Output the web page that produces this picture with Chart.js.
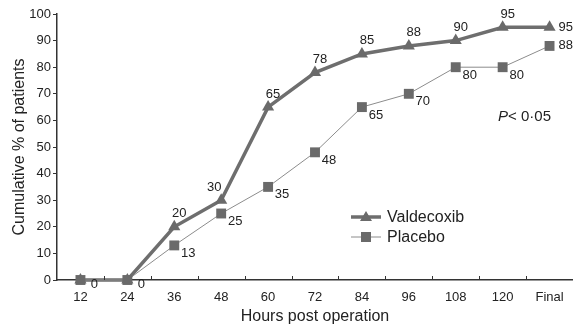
<!DOCTYPE html>
<html>
<head>
<meta charset="utf-8">
<script src="https://cdn.jsdelivr.net/npm/chart.js@4"></script>
<style>
  html, body { margin: 0; padding: 0; background: #fff; }
  #wrap { width: 573px; height: 329px; }
</style>
</head>
<body>
<div id="wrap"><canvas id="c"></canvas></div>
<script>
const hours = ["12", "24", "36", "48", "60", "72", "84", "96", "108", "120", "Final"];
const valdecoxib = [0, 0, 20, 30, 65, 78, 85, 88, 90, 95, 95];
const placebo = [0, 0, 13, 25, 35, 48, 65, 70, 80, 80, 88];
const yTicks = [0, 10, 20, 30, 40, 50, 60, 70, 80, 90, 100];

const FONT = "'Liberation Sans', Arial, sans-serif";
const TEXT = "#222";
const MARK = "#6a6a6a";

// value labels next to each point
const pointLabels = {
  id: "pointLabels",
  afterDatasetsDraw(chart) {
    const ctx = chart.ctx;
    ctx.save();
    ctx.font = "13px " + FONT;
    ctx.fillStyle = TEXT;
    ctx.textBaseline = "middle";
    chart.data.datasets.forEach((ds, i) => {
      const meta = chart.getDatasetMeta(i);
      const last = ds.data.length - 1;
      meta.data.forEach((pt, j) => {
        const v = ds.data[j];
        let dx, dy;
        ctx.textAlign = "center";
        if (ds.label === "Valdecoxib") {
          if (v === 0) return;
          dx = 5; dy = -13;
          if (j < last && ds.data[j + 1] - v > 20) dx = -7;
        } else {
          dx = 14; dy = 8;
          if (v === 0) dy = 4;
        }
        if (j === last) { ctx.textAlign = "left"; dx = 9; dy = 0; }
        ctx.fillText(String(v), pt.x + dx, pt.y + dy);
      });
    });
    ctx.restore();
  }
};

// inward tick marks on x axis between categories, legend and P value
const extras = {
  id: "extras",
  afterDraw(chart) {
    const ctx = chart.ctx;
    const x = chart.scales.x;
    const y = chart.scales.y;
    ctx.save();
    ctx.strokeStyle = "#333";
    ctx.lineWidth = 1;
    for (let i = 0; i < hours.length - 1; i++) {
      const px = Math.round((x.getPixelForValue(i) + x.getPixelForValue(i + 1)) / 2) + 0.5;
      ctx.beginPath();
      ctx.moveTo(px, y.bottom);
      ctx.lineTo(px, y.bottom - 4);
      ctx.stroke();
    }

    // legend
    const lx = 351, ly = [217, 237];
    chart.data.datasets.forEach((ds, i) => {
      ctx.strokeStyle = ds.borderColor;
      ctx.lineWidth = ds.borderWidth;
      ctx.beginPath();
      ctx.moveTo(lx, ly[i]);
      ctx.lineTo(lx + 30, ly[i]);
      ctx.stroke();
      ctx.fillStyle = ds.pointBackgroundColor;
      const cx = lx + 15;
      ctx.beginPath();
      if (ds.pointStyle === "triangle") {
        ctx.moveTo(cx, ly[i] - 6);
        ctx.lineTo(cx + 6, ly[i] + 4);
        ctx.lineTo(cx - 6, ly[i] + 4);
      } else {
        ctx.rect(cx - 5, ly[i] - 5, 10, 10);
      }
      ctx.fill();
      ctx.fillStyle = TEXT;
      ctx.font = "16px " + FONT;
      ctx.textAlign = "left";
      ctx.textBaseline = "middle";
      ctx.fillText(ds.label, 387, ly[i] + 1);
    });

    // P value
    ctx.fillStyle = TEXT;
    ctx.textBaseline = "middle";
    ctx.textAlign = "left";
    ctx.font = "italic 15px " + FONT;
    ctx.fillText("P", 498, 117);
    ctx.font = "15px " + FONT;
    ctx.fillText("<", 508, 117);
    ctx.fillText("0·05", 521, 117);
    ctx.restore();
  }
};

new Chart(document.getElementById("c"), {
  type: "line",
  data: {
    labels: hours,
    datasets: [
      {
        label: "Valdecoxib",
        data: valdecoxib,
        borderColor: "#6e6e6e",
        borderWidth: 3.5,
        pointStyle: "triangle",
        pointRadius: 7,
        pointBackgroundColor: MARK,
        pointBorderWidth: 0,
        tension: 0,
        clip: false,
        order: 1
      },
      {
        label: "Placebo",
        data: placebo,
        borderColor: "#8c8c8c",
        borderWidth: 1,
        pointStyle: "rect",
        pointRadius: 7,
        pointBackgroundColor: MARK,
        pointBorderWidth: 0,
        tension: 0,
        clip: false,
        order: 0
      }
    ]
  },
  options: {
    responsive: true,
    maintainAspectRatio: false,
    animation: false,
    devicePixelRatio: 1,
    layout: { autoPadding: false, padding: { top: 14, right: 0, left: 0, bottom: 0 } },
    plugins: {
      legend: { display: false },
      tooltip: { enabled: false }
    },
    scales: {
      x: {
        offset: true,
        grid: { display: true, drawOnChartArea: false, drawTicks: false },
        border: { display: true, color: "#333", width: 1.5 },
        ticks: { color: TEXT, font: { family: FONT, size: 13 }, padding: 10, maxRotation: 0, autoSkip: false },
        title: { display: true, text: "Hours post operation", color: TEXT, font: { family: FONT, size: 16 }, padding: { top: 0, bottom: 3 } },
        afterFit(s) { s.height = 49; s.paddingLeft = 0; s.paddingRight = 0; }
      },
      y: {
        min: 0,
        max: 100,
        afterBuildTicks(s) { s.ticks = yTicks.map(v => ({ value: v })); },
        grid: { drawOnChartArea: false, drawTicks: true, tickLength: 4, color: "#333" },
        border: { display: true, color: "#333", width: 1.5 },
        ticks: { color: TEXT, font: { family: FONT, size: 13 }, padding: 2 },
        title: { display: true, text: "Cumulative % of patients", color: TEXT, font: { family: FONT, size: 16 }, padding: { top: 10, bottom: 0 } },
        afterFit(s) { s.width = 57; }
      }
    }
  },
  plugins: [pointLabels, extras]
});
</script>
</body>
</html>
